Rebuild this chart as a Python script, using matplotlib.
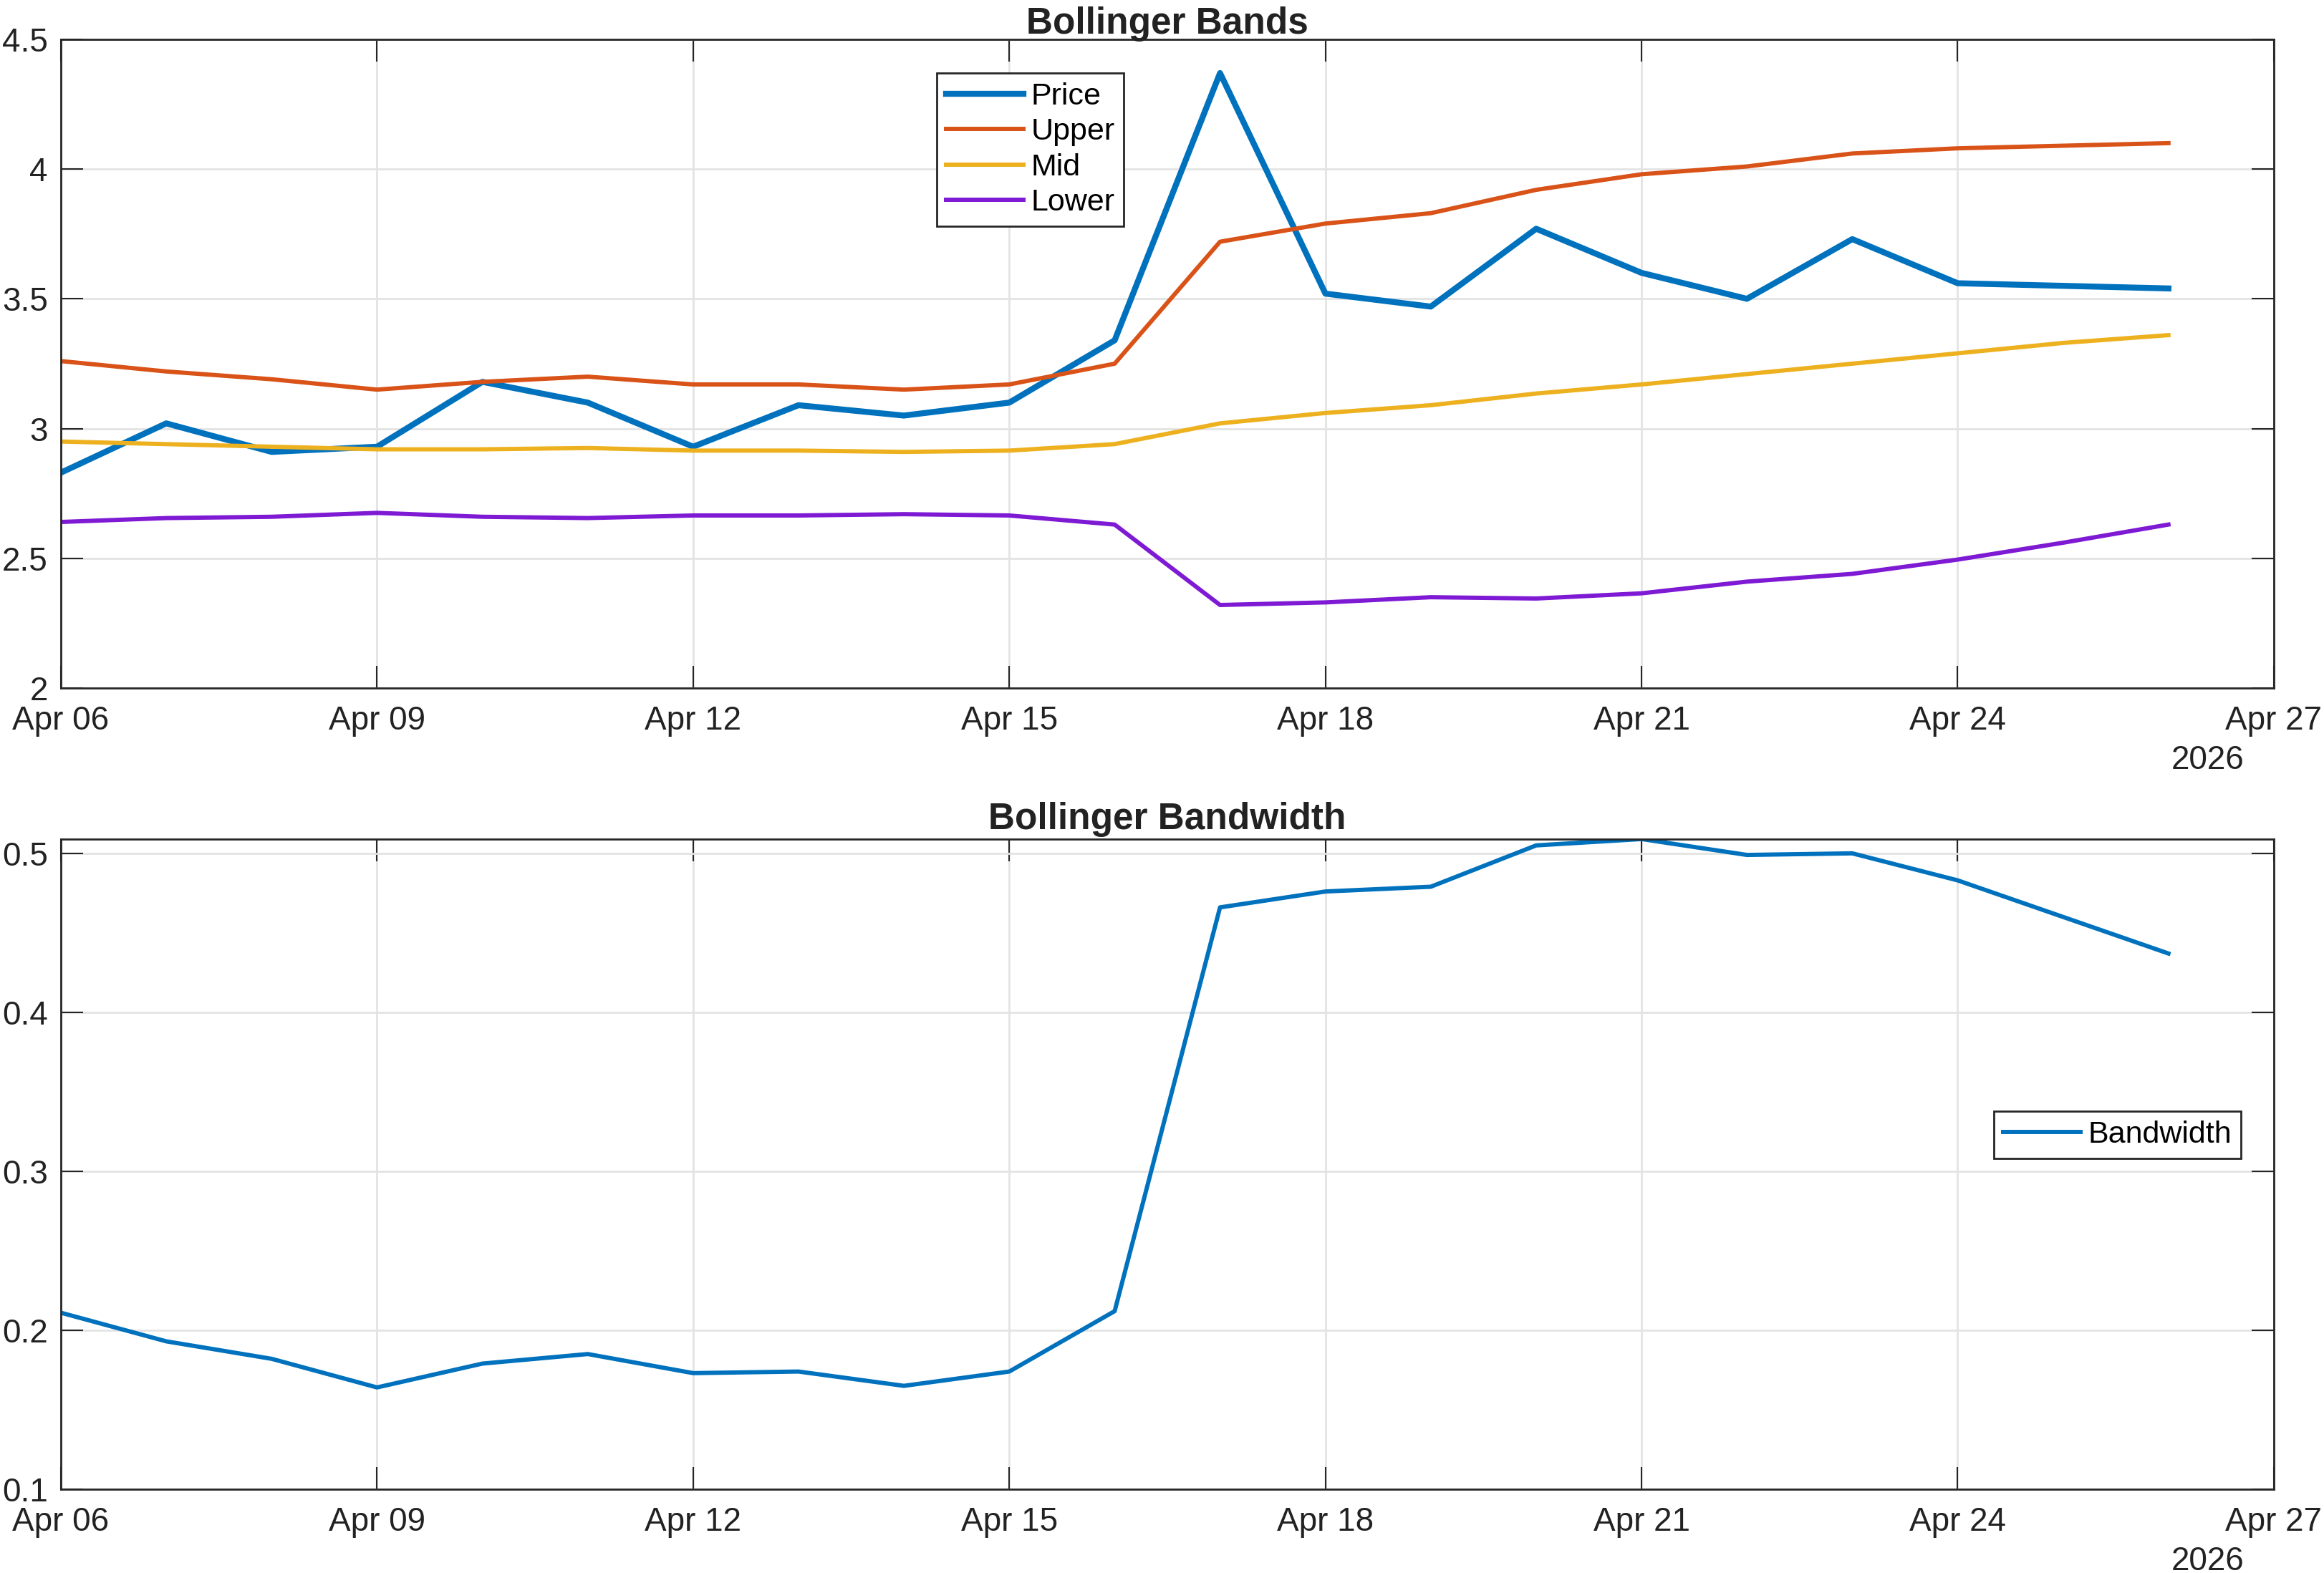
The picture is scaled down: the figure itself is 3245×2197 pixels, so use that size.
import numpy as np
import matplotlib
matplotlib.use('Agg')
import matplotlib.pyplot as plt
import matplotlib.dates as mdates
from matplotlib.ticker import FuncFormatter

plt.rcParams['font.family'] = ['Liberation Sans', 'DejaVu Sans']

# data (daily, Apr 06 .. Apr 26 2026)
dates = np.arange(np.datetime64('2026-04-06'), np.datetime64('2026-04-27'))
price = [2.83, 3.02, 2.91, 2.93, 3.18, 3.10, 2.93, 3.09, 3.05, 3.10, 3.34,
         4.37, 3.52, 3.47, 3.77, 3.60, 3.50, 3.73, 3.56, 3.55, 3.54]
upper = [3.26, 3.22, 3.19, 3.15, 3.18, 3.20, 3.17, 3.17, 3.15, 3.17, 3.25,
         3.72, 3.79, 3.83, 3.92, 3.98, 4.01, 4.06, 4.08, 4.09, 4.10]
mid = [2.95, 2.94, 2.93, 2.92, 2.92, 2.925, 2.915, 2.915, 2.91, 2.915, 2.94,
       3.02, 3.06, 3.09, 3.135, 3.17, 3.21, 3.25, 3.29, 3.33, 3.36]
lower = [2.64, 2.655, 2.66, 2.675, 2.66, 2.655, 2.665, 2.665, 2.67, 2.665, 2.63,
         2.32, 2.33, 2.35, 2.345, 2.365, 2.41, 2.44, 2.495, 2.56, 2.63]
bandwidth = [0.211, 0.193, 0.182, 0.164, 0.179, 0.185, 0.173, 0.174, 0.165, 0.174, 0.212,
             0.466, 0.476, 0.479, 0.505, 0.509, 0.499, 0.500, 0.483, 0.460, 0.437]

c_price = '#0072BD'
c_upper = '#D95319'
c_mid = '#EDB120'
c_lower = '#7E1AD4'
edge = '#262626'

fig = plt.figure(figsize=(32.45, 21.97), dpi=100)
ax1 = fig.add_axes([0.0262, 0.5626, 0.9522, 0.4124])
ax2 = fig.add_axes([0.0262, 0.0533, 0.9522, 0.4133])

ax1.plot(dates, price, color=c_price, lw=6, label='Price')
ax1.plot(dates, upper, color=c_upper, lw=4.3, label='Upper')
ax1.plot(dates, mid, color=c_mid, lw=4.3, label='Mid')
ax1.plot(dates, lower, color=c_lower, lw=4.3, label='Lower')
ax1.set_ylim(2, 4.5)
ax1.set_yticks([2, 2.5, 3, 3.5, 4, 4.5])
ax1.set_title('Bollinger Bands', fontsize=37, fontweight='bold', color='#222222', pad=6)

ax2.plot(dates, bandwidth, color=c_price, lw=4.3, label='Bandwidth')
ax2.set_ylim(0.1, 0.509)
ax2.set_yticks([0.1, 0.2, 0.3, 0.4, 0.5])
ax2.set_title('Bollinger Bandwidth', fontsize=37, fontweight='bold', color='#222222', pad=10)

fmt = FuncFormatter(lambda v, p: ('%g' % v))
for ax in (ax1, ax2):
    ax.set_xlim(np.datetime64('2026-04-06'), np.datetime64('2026-04-27'))
    ax.xaxis.set_major_locator(mdates.DayLocator(interval=3))
    ax.xaxis.set_major_formatter(mdates.DateFormatter('%b %d'))
    ax.yaxis.set_major_formatter(fmt)
    ax.grid(True, color='#e3e3e3', lw=2)
    ax.set_axisbelow(True)
    ax.tick_params(direction='in', length=22, width=1.5, top=True, right=True,
                   labelsize=33, colors=edge)
    ax.tick_params(axis='x', pad=17)
    ax.tick_params(axis='y', pad=13)
    for lab in ax.get_xticklabels() + ax.get_yticklabels():
        lab.set_color('#222222')
    for s in ax.spines.values():
        s.set_color(edge)
        s.set_linewidth(2)
    ax.annotate('2026', xy=(0.970, 0), xycoords='axes fraction',
                xytext=(0, -73), textcoords='offset points', fontsize=33,
                color='#222222', ha='center', va='center')

leg1 = ax1.legend(loc='upper left', bbox_to_anchor=(0.3958, 0.948), fontsize=31,
                  frameon=True, fancybox=False, framealpha=1, edgecolor=edge,
                  handlelength=2.5, handletextpad=0.25, labelspacing=0.22,
                  borderpad=0.3, borderaxespad=0)
leg1.get_frame().set_linewidth(2)
leg2 = ax2.legend(loc='upper left', bbox_to_anchor=(0.8735, 0.5815), fontsize=31,
                  frameon=True, fancybox=False, framealpha=1, edgecolor=edge,
                  handlelength=2.5, handletextpad=0.25, borderpad=0.3, borderaxespad=0)
leg2.get_frame().set_linewidth(2)

fig.savefig('out.png', dpi=100)
